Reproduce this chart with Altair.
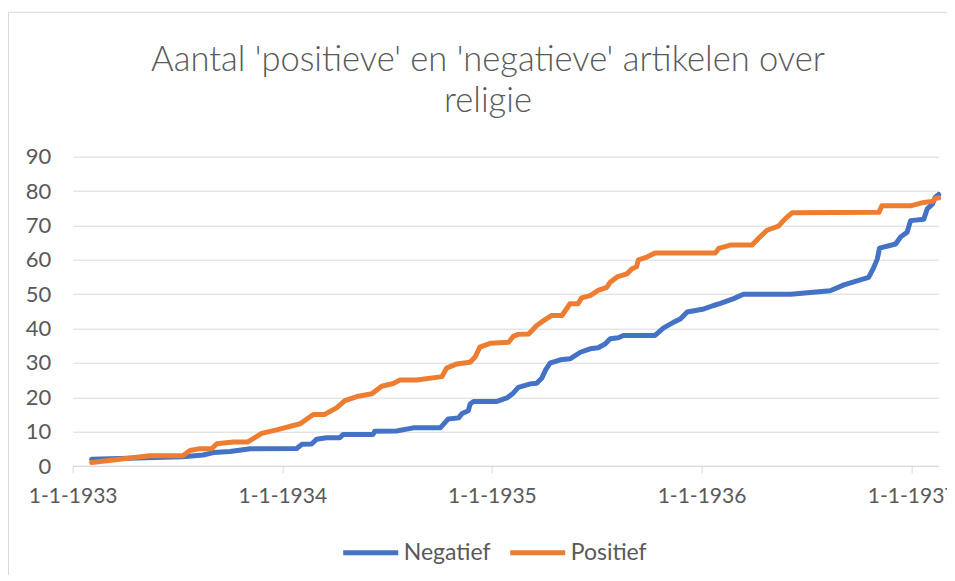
import altair as alt
import pandas as pd

# ---- data ----
neg_dates = [
    "1933/02/03", "1933/07/12", "1933/08/16", "1933/09/03", "1933/10/02", "1933/11/06",
    "1934/01/26", "1934/02/04", "1934/02/21", "1934/03/02", "1934/03/19", "1934/04/11",
    "1934/04/17", "1934/06/08", "1934/06/11", "1934/07/19", "1934/08/17", "1934/10/03",
    "1934/10/17", "1934/11/04", "1934/11/10", "1934/11/21", "1934/11/24", "1934/11/30",
    "1935/01/10", "1935/01/27", "1935/02/07", "1935/02/16", "1935/03/09", "1935/03/20",
    "1935/03/29", "1935/04/04", "1935/04/12", "1935/04/30", "1935/05/17", "1935/06/04",
    "1935/06/21", "1935/07/05", "1935/07/17", "1935/07/26", "1935/08/09", "1935/08/18",
    "1935/10/12", "1935/10/27", "1935/11/13", "1935/11/25", "1935/12/07", "1936/01/05",
    "1936/01/22", "1936/02/03", "1936/02/26", "1936/03/14", "1936/06/04", "1936/08/12",
    "1936/09/05", "1936/10/18", "1936/10/27", "1936/11/02", "1936/11/06", "1936/12/04",
    "1936/12/13", "1936/12/24", "1936/12/30", "1937/01/22", "1937/01/28", "1937/02/06",
    "1937/02/11", "1937/02/17",
]
neg_values = [
    2, 2.7, 3.2, 3.9, 4.2, 5,
    5.1, 6.3, 6.4, 7.8, 8.2, 8.2,
    9.2, 9.2, 10.1, 10.2, 11.1, 11.1,
    13.7, 14, 15.3, 16.1, 18, 18.8,
    18.8, 19.8, 21.2, 22.9, 23.9, 24.1,
    25.6, 27.8, 29.9, 30.9, 31.2, 33.1,
    34.1, 34.4, 35.5, 37, 37.3, 38,
    38, 40.2, 41.8, 42.8, 44.8, 45.7,
    46.7, 47.3, 48.7, 50, 50, 51,
    52.7, 54.9, 57.8, 60.2, 63.4, 64.6,
    66.7, 68, 71.4, 71.8, 74.8, 76.2,
    78.2, 79,
]

pos_dates = [
    "1933/02/03", "1933/05/15", "1933/07/12", "1933/07/24", "1933/08/10", "1933/08/31",
    "1933/09/09", "1933/10/08", "1933/11/02", "1933/11/26", "1933/12/22", "1934/02/01",
    "1934/02/24", "1934/03/16", "1934/04/06", "1934/04/20", "1934/05/11", "1934/06/06",
    "1934/06/23", "1934/07/13", "1934/07/25", "1934/08/23", "1934/10/06", "1934/10/14",
    "1934/11/01", "1934/11/24", "1934/12/03", "1934/12/11", "1934/12/29", "1935/01/30",
    "1935/02/07", "1935/02/16", "1935/03/06", "1935/03/20", "1935/04/01", "1935/04/15",
    "1935/05/03", "1935/05/17", "1935/05/31", "1935/06/06", "1935/06/21", "1935/07/05",
    "1935/07/20", "1935/07/26", "1935/08/07", "1935/08/24", "1935/09/02", "1935/09/10",
    "1935/09/13", "1935/09/28", "1935/10/12", "1936/01/25", "1936/01/31", "1936/02/20",
    "1936/03/29", "1936/04/12", "1936/04/24", "1936/05/14", "1936/05/26", "1936/06/07",
    "1936/11/05", "1936/11/10", "1936/12/30", "1937/01/22", "1937/02/06", "1937/02/12",
    "1937/02/17",
]
pos_values = [
    1, 3, 3, 4.5, 5, 5,
    6.5, 7, 7, 9.5, 10.5, 12.3,
    15, 15, 17, 19, 20.2, 21,
    23.2, 24, 25, 25, 26, 28.5,
    29.7, 30.2, 31.8, 34.6, 35.7, 36,
    37.7, 38.3, 38.4, 40.9, 42.3, 43.8,
    43.8, 47.2, 47.2, 48.9, 49.6, 51.1,
    52, 53.5, 55, 55.9, 57.4, 58,
    60, 60.8, 62, 62, 63.3, 64.3,
    64.3, 66.7, 68.6, 69.8, 72, 73.7,
    73.8, 75.7, 75.7, 76.7, 77, 78,
    78,
]

series_names = ["Negatief", "Positief"]
series_colors = ["#4472C4", "#ED7D31"]
y_ticks = [0, 10, 20, 30, 40, 50, 60, 70, 80, 90]
title_lines = ["Aantal 'positieve' en 'negatieve' artikelen over", "religie"]

df = pd.concat([
    pd.DataFrame({"datum": neg_dates, "aantal": neg_values, "reeks": series_names[0], "ord": 0}),
    pd.DataFrame({"datum": pos_dates, "aantal": pos_values, "reeks": series_names[1], "ord": 1}),
], ignore_index=True)

FONT = "Lato"
GREY = "#595959"
LINE = "#D9D9D9"

lines = alt.Chart(df).mark_line(strokeWidth=5, strokeCap="round", strokeJoin="round").encode(
    x=alt.X(
        "datum:T",
        title=None,
        scale=alt.Scale(domain=[alt.DateTime(year=1933, month=1, date=1),
                                alt.DateTime(year=1937, month=2, date=17)]),
        axis=alt.Axis(
            format="%-d-%-m-%Y",
            tickCount={"interval": "year", "step": 1},
            grid=False,
            domainColor=LINE,
            domainWidth=1,
            tickColor=LINE,
            tickSize=7,
            labelFont=FONT,
            labelFontSize=21,
            labelColor=GREY,
            labelPadding=12,
            labelFlush=False,
            labelOverlap=False,
        ),
    ),
    y=alt.Y(
        "aantal:Q",
        title=None,
        scale=alt.Scale(domain=[0, 90], nice=False),
        axis=alt.Axis(
            values=y_ticks,
            grid=True,
            gridColor=LINE,
            gridWidth=1,
            domain=False,
            ticks=False,
            labelFont=FONT,
            labelFontSize=22,
            labelColor=GREY,
            labelPadding=22,
        ),
    ),
    color=alt.Color(
        "reeks:N",
        scale=alt.Scale(domain=series_names, range=series_colors),
        legend=alt.Legend(
            orient="none",
            legendX=268,
            legendY=366,
            direction="horizontal",
            title=None,
            symbolType="stroke",
            symbolSize=3025,
            symbolStrokeWidth=5,
            labelFont=FONT,
            labelFontSize=23,
            labelColor=GREY,
            labelOffset=3,
            columnPadding=9,
            padding=0,
        ),
    ),
    order=alt.Order("ord:Q"),
    detail="reeks:N",
)

frame = alt.Chart(pd.DataFrame({"k": [0]})).mark_rect(
    fill=None, stroke=LINE, strokeWidth=1
).encode(
    x=alt.value(-64.2), y=alt.value(-144.4), x2=alt.value(1200), y2=alt.value(800)
)

chart = alt.layer(frame, lines).properties(
    width=866,
    height=309.3,
    autosize=alt.AutoSizeParams(type="none"),
    padding={"left": 64.7, "top": 148.7, "right": 8.3, "bottom": 109},
    title=alt.TitleParams(
        text=title_lines,
        font=FONT,
        fontSize=34.5,
        fontWeight=300,
        color=GREY,
        anchor="middle",
        frame="group",
        baseline="bottom",
        offset=-142,
        lineHeight=41,
        dx=-17.7,
    ),
).configure_view(stroke=None)

chart.save("out.html", embed_options={"renderer": "svg", "actions": False})
